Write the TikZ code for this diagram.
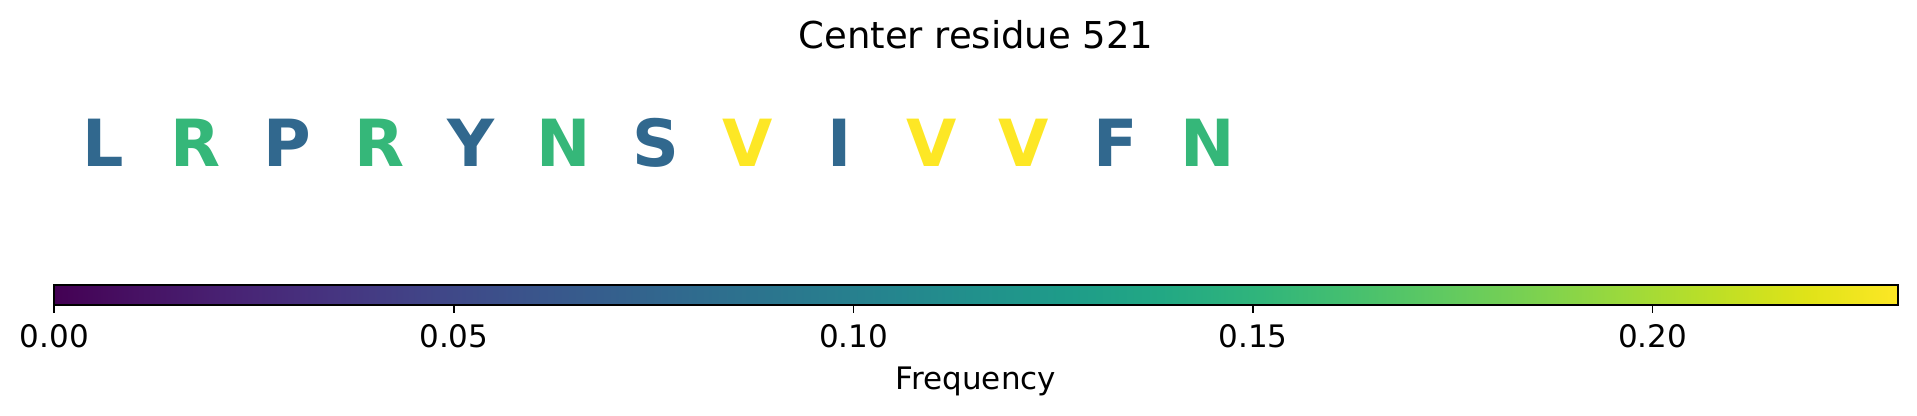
\documentclass[tikz,border=0pt]{standalone}
\usepackage{fontspec}
\setmainfont{DejaVu Sans}
\definecolor{vblue}{HTML}{31688E}
\definecolor{vgreen}{HTML}{35B779}
\definecolor{vyellow}{HTML}{FDE725}
\definecolor{va}{HTML}{440154}
\definecolor{vb}{HTML}{471365}
\definecolor{vc}{HTML}{482475}
\definecolor{vd}{HTML}{463480}
\definecolor{ve}{HTML}{414487}
\definecolor{vf}{HTML}{3B528B}
\definecolor{vg}{HTML}{355F8D}
\definecolor{vh}{HTML}{2F6C8E}
\definecolor{vi}{HTML}{2A788E}
\definecolor{vj}{HTML}{25848E}
\definecolor{vk}{HTML}{21918C}
\definecolor{vl}{HTML}{1E9C89}
\definecolor{vm}{HTML}{22A884}
\definecolor{vn}{HTML}{2FB47C}
\definecolor{vo}{HTML}{44BF70}
\definecolor{vp}{HTML}{5EC962}
\definecolor{vq}{HTML}{7AD151}
\definecolor{vr}{HTML}{9BD93C}
\definecolor{vs}{HTML}{BDDF26}
\definecolor{vt}{HTML}{DFE318}
\definecolor{vu}{HTML}{FDE725}
\pgfdeclarehorizontalshading{viridis}{100bp}{color(0bp)=(va); color(25bp)=(va); color(27.5bp)=(vb); color(30bp)=(vc); color(32.5bp)=(vd); color(35bp)=(ve); color(37.5bp)=(vf); color(40bp)=(vg); color(42.5bp)=(vh); color(45bp)=(vi); color(47.5bp)=(vj); color(50bp)=(vk); color(52.5bp)=(vl); color(55bp)=(vm); color(57.5bp)=(vn); color(60bp)=(vo); color(62.5bp)=(vp); color(65bp)=(vq); color(67.5bp)=(vr); color(70bp)=(vs); color(72.5bp)=(vt); color(75bp)=(vu); color(100bp)=(vu)}
\tikzset{
  basetext/.style={anchor=base, inner sep=0pt, outer sep=0pt, font=\fontsize{15.5pt}{18pt}\selectfont},
  titletext/.style={anchor=base, inner sep=0pt, outer sep=0pt, font=\fontsize{18.5pt}{22pt}\selectfont},
  residue/.style={anchor=base, inner sep=0pt, outer sep=0pt, font=\fontsize{32.5pt}{38pt}\selectfont\bfseries},
  cbframe/.style={draw=black, line width=0.85pt},
  cbtick/.style={draw=black, line width=0.85pt, line cap=butt}
}
\begin{document}
\begin{tikzpicture}[x=0.5pt,y=-0.5pt]
\useasboundingbox (0,0) rectangle (1917,416);
\node[titletext] (title) at (976,48.3) {Center residue 521};
\foreach \ch/\col [count=\i from 0] in {L/vblue,R/vgreen,P/vblue,R/vgreen,Y/vblue,N/vgreen,S/vblue,V/vyellow,I/vblue,V/vyellow,V/vyellow,F/vblue,N/vgreen}{
  \node[residue, text=\col] (res\i) at (103.3+92.04*\i,166.7) {\ch};
}
\coordinate (cbnw) at (54.3,285);
\coordinate (cbse) at (1898,305);
\shade[shading=viridis] (cbnw) rectangle (cbse);
\draw[cbframe] (cbnw) rectangle (cbse);
\foreach \v/\lab [count=\k] in {0/0.00,0.05/0.05,0.10/0.10,0.15/0.15,0.20/0.20}{
  \coordinate (tick\k) at (54.3+7991.7*\v,305);
  \coordinate (tickend\k) at (54.3+7991.7*\v,313);
  \draw[cbtick] (tick\k) -- (tickend\k);
  \node[basetext] (ticklab\k) at (54.3+7991.7*\v,348) {\lab};
}
\node[basetext] (xlabel) at (976,390) {Frequency};
\end{tikzpicture}
\end{document}
